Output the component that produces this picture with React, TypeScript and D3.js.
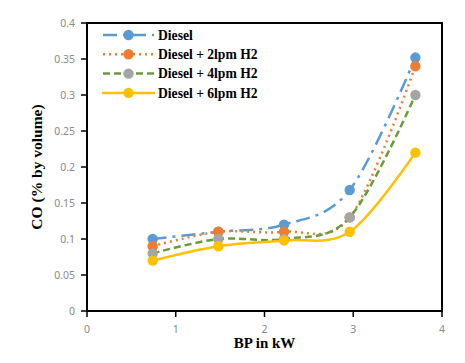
import React from 'react'
import * as d3 from 'd3'

const bp = [0.74, 1.48, 2.22, 2.96, 3.7]
const diesel = [0.1, 0.11, 0.12, 0.168, 0.352]
const lpm2 = [0.09, 0.11, 0.11, 0.13, 0.34]
const lpm4 = [0.08, 0.1, 0.1, 0.13, 0.3]
const lpm6 = [0.07, 0.09, 0.098, 0.11, 0.22]
const xTicks = [0, 1, 2, 3, 4]
const yTicks = [0, 0.05, 0.1, 0.15, 0.2, 0.25, 0.3, 0.35, 0.4]

const series = [
    { name: 'Diesel', values: diesel, line: '#5B9BD5', marker: '#5B9BD5', dash: '14,6,3,6', cap: 'butt' },
    { name: 'Diesel + 2lpm H2', values: lpm2, line: '#ED7D31', marker: '#ED7D31', dash: '2,4', cap: 'butt' },
    { name: 'Diesel + 4lpm H2', values: lpm4, line: '#6A9A3A', marker: '#A5A5A5', dash: '7,4', cap: 'butt' },
    { name: 'Diesel + 6lpm H2', values: lpm6, line: '#FFC000', marker: '#FFC000', dash: null, cap: 'round' },
]

function App() {
    const width = 465
    const height = 363
    const margin = { top: 23, right: 23, bottom: 52, left: 87 }

    const x = d3.scaleLinear().domain([0, 4]).range([margin.left, width - margin.right])
    const y = d3.scaleLinear().domain([0, 0.4]).range([height - margin.bottom, margin.top])

    const line = d3.line<number>()
        .x((d, i) => x(bp[i]))
        .y(d => y(d))
        .curve(d3.curveCardinal.tension(0))

    const legendX = 103
    const legendY = 35
    const legendStep = 19.3

    return (
        <svg width={width} height={height} style={{ position: 'absolute', left: 0, top: 0, background: '#fff' }}>
            {/* y ticks */}
            {yTicks.map(t => (
                <g key={'y' + t}>
                    <line x1={x(0) - 6} x2={x(0)} y1={y(t)} y2={y(t)} stroke="#000" strokeWidth={1.5} />
                    <text x={x(0) - 12} y={y(t)} dy="0.35em" textAnchor="end"
                        fontFamily="Noto Sans" fontSize={10.5} fill="#8a8a8a">{t}</text>
                </g>
            ))}
            {/* x ticks */}
            {xTicks.map(t => (
                <g key={'x' + t}>
                    <line x1={x(t)} x2={x(t)} y1={y(0)} y2={y(0) + 6} stroke="#000" strokeWidth={1.5} />
                    <text x={x(t)} y={y(0) + 22} textAnchor="middle"
                        fontFamily="Noto Sans" fontSize={10.5} fill="#8a8a8a">{t}</text>
                </g>
            ))}
            <rect x={x(0)} y={y(0.4)} width={x(4) - x(0)} height={y(0) - y(0.4)}
                fill="none" stroke="#000" strokeWidth={2} />

            {series.map(s => (
                <g key={s.name}>
                    <path d={line(s.values) || ''} fill="none" stroke={s.line} strokeWidth={2.5}
                        strokeDasharray={s.dash || undefined} strokeLinecap={s.cap as any} />
                    {s.values.map((v, i) => (
                        <circle key={i} cx={x(bp[i])} cy={y(v)} r={5.2} fill={s.marker} />
                    ))}
                </g>
            ))}

            {/* legend */}
            {series.map((s, i) => (
                <g key={'lg' + s.name} transform={`translate(${legendX}, ${legendY + i * legendStep})`}>
                    <line x1={0} x2={51} y1={0} y2={0} stroke={s.line} strokeWidth={2.5}
                        strokeDasharray={s.dash || undefined} strokeLinecap={s.cap as any} />
                    <circle cx={25.5} cy={0} r={5.2} fill={s.marker} />
                    <text x={55} y={0} dy="0.35em" fontFamily="Liberation Serif" fontWeight="bold"
                        fontSize={13.6} fill="#000">{s.name}</text>
                </g>
            ))}

            <text x={(x(0) + x(4)) / 2} y={348} textAnchor="middle" fontFamily="Liberation Serif"
                fontWeight="bold" fontSize={15}>BP in kW</text>
            <text transform={`translate(42, ${(y(0) + y(0.4)) / 2}) rotate(-90)`} textAnchor="middle"
                fontFamily="Liberation Serif" fontWeight="bold" fontSize={15.5}>CO (% by volume)</text>
        </svg>
    )
}

export default App
